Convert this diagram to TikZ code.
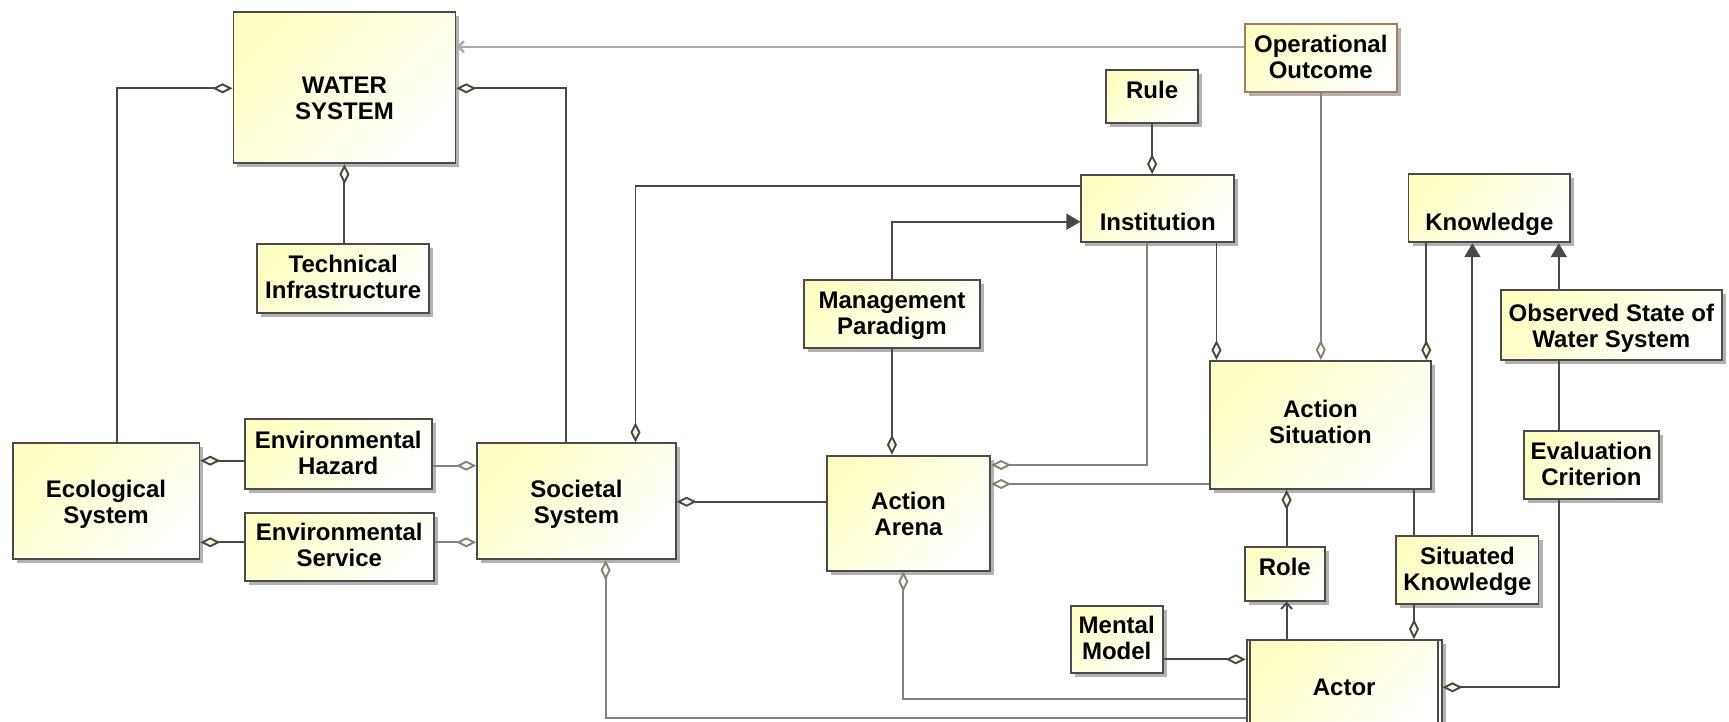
\documentclass[tikz,border=0pt]{standalone}
\usepackage{fontspec}
\setmainfont{Liberation Sans}
\usetikzlibrary{arrows.meta,shadows}
\definecolor{boxyellow}{RGB}{255,255,196}
\definecolor{boxline}{RGB}{75,75,75}
\definecolor{ooline}{RGB}{165,125,95}
\definecolor{darkline}{RGB}{72,72,72}
\definecolor{midline}{RGB}{130,130,130}
\definecolor{lightline}{RGB}{170,170,170}
\definecolor{diafill}{RGB}{255,255,225}
\definecolor{tipfill}{RGB}{70,70,70}
\definecolor{shadowgray}{RGB}{178,178,178}
% centred class name, lowered by #1 inside its box
\newcommand{\boxlabel}[2]{\raisebox{-#1}[\height][\depth]{\begin{tabular}{@{}c@{}}#2\end{tabular}}}

\begin{document}
\begin{tikzpicture}[x=1pt,y=-1pt,
  umlbox/.style={draw=boxline, line width=1.8pt, inner sep=0pt,
    top color=boxyellow, bottom color=white, shading angle=45,
    drop shadow={shadow xshift=4pt, shadow yshift=-4pt, fill=shadowgray, opacity=1},
    font=\fontsize{24}{26}\selectfont\bfseries},
  conn/.style={draw=darkline, line width=1.9pt},
  mid/.style={draw=midline},
  light/.style={draw=lightline, line width=2.4pt},
  agg/.style={conn, -{Diamond[length=20pt,width=10pt,fill=diafill]}},
  gen/.style={conn, -{Triangle[length=14pt,width=16pt,fill=tipfill]}},
  nav/.style={conn, -{Straight Barb[length=6pt,width=11pt]}}]

\fill[white] (0,0) rectangle (1729,721);
\useasboundingbox (0,0) rectangle (1729,721);

% classes
\node[umlbox, minimum width=222pt, minimum height=151.6pt] (water) at (344.4,87.5) {\boxlabel{14pt}{WATER\\SYSTEM}};
\node[umlbox, minimum width=172.2pt, minimum height=68.4pt] (ti) at (343.2,278.5) {\boxlabel{2pt}{Technical\\Infrastructure}};
\node[umlbox, minimum width=186.8pt, minimum height=116pt] (eco) at (106,501.3) {\boxlabel{4pt}{Ecological\\System}};
\node[umlbox, minimum width=186.7pt, minimum height=70pt] (hazard) at (338.25,454) {\boxlabel{2pt}{Environmental\\Hazard}};
\node[umlbox, minimum width=188.7pt, minimum height=68pt] (service) at (339.25,546.7) {\boxlabel{2pt}{Environmental\\Service}};
\node[umlbox, minimum width=198.5pt, minimum height=116pt] (societal) at (576.45,501.3) {\boxlabel{4pt}{Societal\\System}};
\node[umlbox, minimum width=163.4pt, minimum height=115pt] (arena) at (908.5,513.2) {\boxlabel{4pt}{Action\\Arena}};
\node[umlbox, minimum width=176pt, minimum height=68.3pt] (mp) at (891.9,314.15) {\boxlabel{2.5pt}{Management\\Paradigm}};
\node[umlbox, minimum width=91.8pt, minimum height=53.3pt] (rule) at (1152.1,96.65) {\boxlabel{-3pt}{Rule}};
\node[umlbox, minimum width=152.9pt, minimum height=67.3pt] (inst) at (1157.75,208.65) {\boxlabel{16.5pt}{Institution}};
\node[umlbox, draw=ooline, minimum width=151.8pt, minimum height=67.7pt] (oo) at (1320.8,57.85) {\boxlabel{2pt}{Operational\\Outcome}};
\node[umlbox, minimum width=161.7pt, minimum height=68.3pt] (know) at (1489.35,208.15) {\boxlabel{17pt}{Knowledge}};
\node[umlbox, minimum width=221.3pt, minimum height=70pt] (obs) at (1611.35,325) {\boxlabel{4pt}{Observed State of\\Water System}};
\node[umlbox, minimum width=220.4pt, minimum height=128pt] (as) at (1320.4,425) {\boxlabel{0pt}{Action\\Situation}};
\node[umlbox, minimum width=79.8pt, minimum height=53.4pt] (role) at (1284.8,574) {\boxlabel{-4pt}{Role}};
\node[umlbox, minimum width=142.2pt, minimum height=68.3pt] (sk) at (1467.4,569.85) {\boxlabel{2.5pt}{Situated\\Knowledge}};
\node[umlbox, minimum width=134.8pt, minimum height=68.6pt] (ec) at (1591.4,465) {\boxlabel{2pt}{Evaluation\\Criterion}};
\node[umlbox, minimum width=195pt, minimum height=94pt] (actor) at (1344.2,687) {\boxlabel{3.4pt}{Actor}};
\node[umlbox, minimum width=92.2pt, minimum height=67.6pt] (mm) at (1116.7,639.5) {\boxlabel{2pt}{Mental\\Model}};

% active-class side bars of the actor
\draw[draw=boxline, line width=1.8pt] ([xshift=4.5pt]actor.north west) -- ([xshift=4.5pt]actor.south west);
\draw[draw=boxline, line width=1.8pt] ([xshift=-4.5pt]actor.north east) -- ([xshift=-4.5pt]actor.south east);

% water system
\draw[agg] (eco.north -| 116.7,0) |- (water.west |- 0,88.3);
\draw[agg] (societal.north -| 565.6,0) |- (water.east |- 0,88.3);
\draw[agg] (ti.north -| water.south) -- (water.south);
\draw[nav, light] (oo.west |- 0,46.7) -- (water.east |- 0,46.7);

% ecological / societal links
\draw[agg] (hazard.west |- 0,460.7) -- (eco.east |- 0,460.7);
\draw[agg] (service.west |- 0,542.3) -- (eco.east |- 0,542.3);
\draw[agg, mid] (hazard.east |- 0,465.7) -- (societal.west |- 0,465.7);
\draw[agg, mid] (service.east |- 0,542.3) -- (societal.west |- 0,542.3);
\draw[agg] (inst.west |- 0,186) -| (societal.north -| 635.5,0);
\draw[agg] (arena.west |- 0,501.7) -- (societal.east |- 0,501.7);

% institutions and arena
\draw[gen] (mp.north) |- (inst.west |- 0,221.7);
\draw[agg] (mp.south) -- (arena.north -| mp.south);
\draw[agg] (rule.south) -- (inst.north -| rule.south);
\draw[agg, mid] (inst.south -| 1147.1,0) |- (arena.east |- 0,465);
\draw[agg, mid] (as.west |- 0,484) -- (arena.east |- 0,484);

% action situation
\draw[agg] (inst.south -| 1216.5,0) -- (as.north -| 1216.5,0);
\draw[agg, mid] (oo.south) -- (as.north -| oo.south);
\draw[agg] (know.south -| 1426.2,0) -- (as.north -| 1426.2,0);
\draw[agg] (role.north -| 1286.6,0) -- (as.south -| 1286.6,0);
\draw[nav] (actor.north -| 1286.6,0) -- (role.south -| 1286.6,0);
\draw[conn] (as.south -| 1414,0) -- (sk.north -| 1414,0);

% knowledge
\draw[agg] (sk.south -| 1414,0) -- (actor.north -| 1414,0);
\draw[gen] (sk.north -| 1472.4,0) -- (know.south -| 1472.4,0);
\draw[gen] (obs.north -| 1558.8,0) -- (know.south -| 1558.8,0);
\draw[conn] (ec.north -| 1558.8,0) -- (obs.south -| 1558.8,0);
\draw[agg] (ec.south -| 1558.8,0) |- (actor.east |- 0,687.3);

% actor
\draw[agg] (mm.east |- 0,659.3) -- (actor.west |- 0,659.3);
\draw[agg, mid] (actor.west |- 0,699.3) -| (arena.south -| 903.3,0);
\draw[agg, mid] (actor.west |- 0,717.7) -| (societal.south -| 605.6,0);
\end{tikzpicture}
\end{document}
